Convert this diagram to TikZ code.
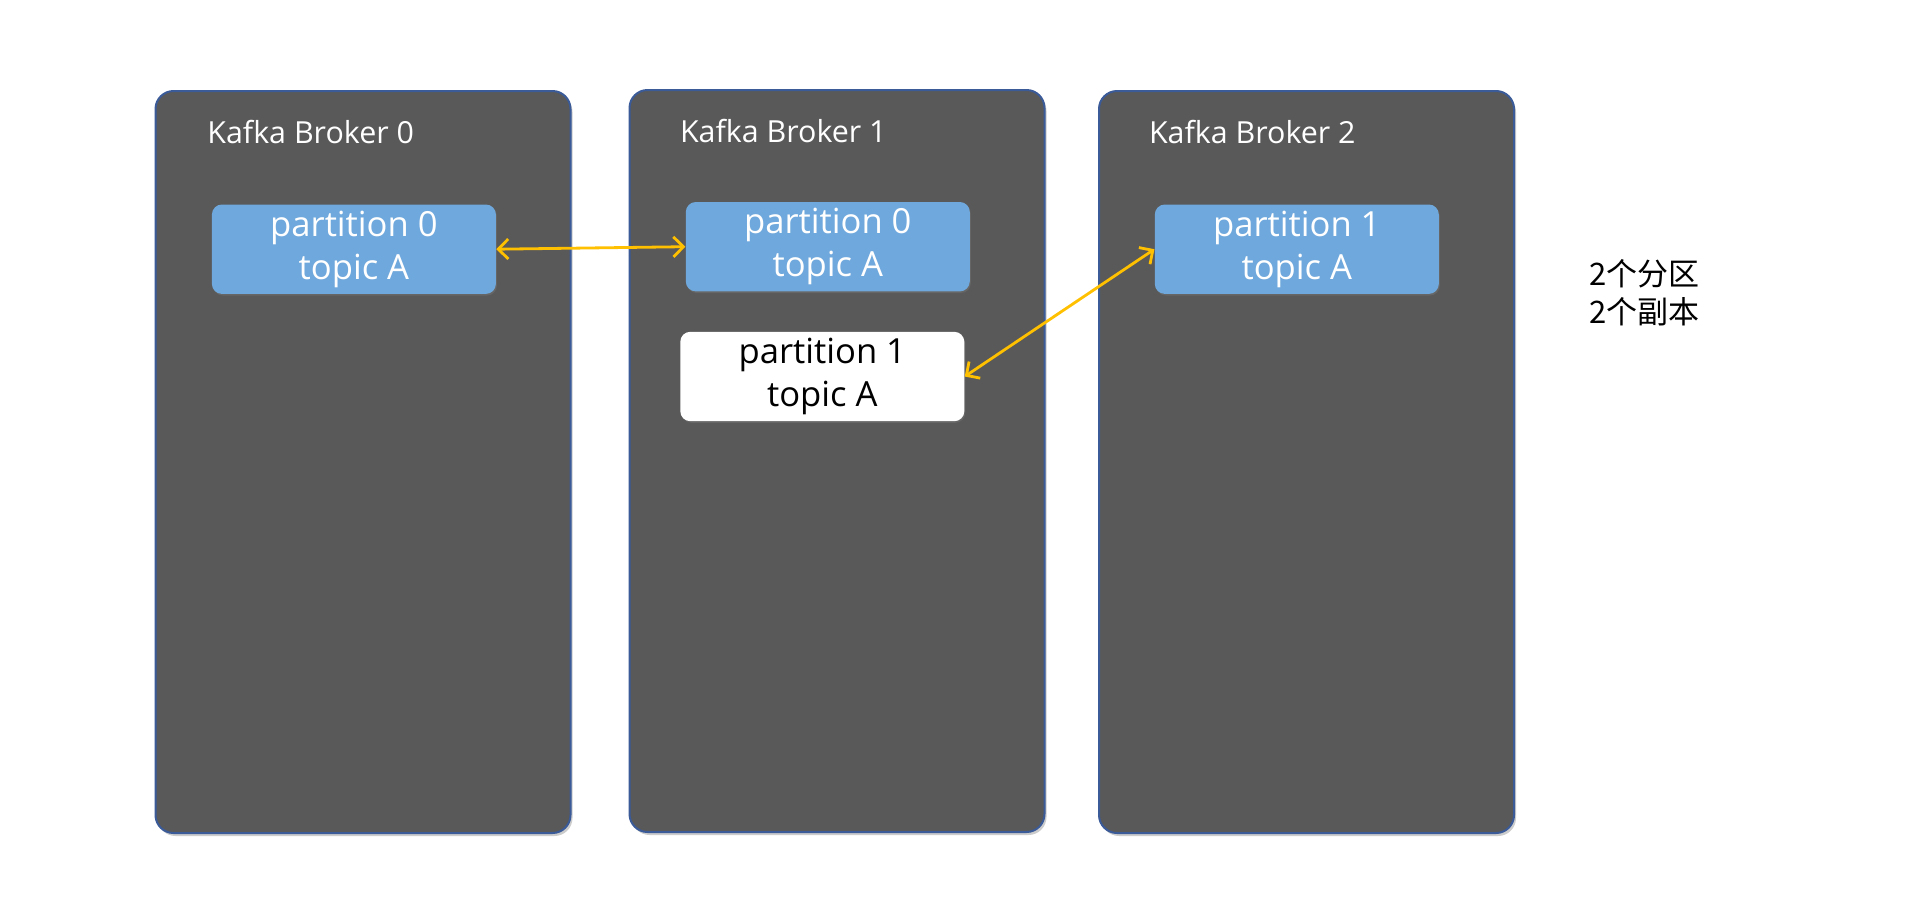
\documentclass[tikz,border=0pt]{standalone}
\usepackage{fontspec}
\setmainfont{Open Sans}
\newfontfamily\cjk{Noto Sans CJK SC}
\usetikzlibrary{arrows.meta,shadows}
\definecolor{brokergray}{HTML}{595959}
\definecolor{brokerline}{HTML}{3A5A98}
\definecolor{partblue}{HTML}{6FA8DC}
\definecolor{linkyellow}{HTML}{FFC000}
\tikzset{
  broker/.style={draw=brokerline, line width=1pt, fill=brokergray,
    rounded corners=9pt, minimum width=207.5pt, minimum height=371pt,
    drop shadow={shadow xshift=1pt, shadow yshift=-1.5pt, opacity=0.4}},
  title/.style={anchor=west, inner sep=0pt, text=white, font=\fontsize{15.2}{18}\selectfont},
  leader/.style={fill=partblue, rounded corners=5pt, minimum width=142pt,
    minimum height=44.7pt, inner sep=0pt, align=center, text=white,
    font=\fontsize{17.3}{21.5}\selectfont,
    drop shadow={shadow xshift=0.5pt, shadow yshift=-0.8pt, opacity=0.35}},
  follower/.style={leader, fill=white, text=black},
  link/.style={draw=linkyellow, line width=1.4pt,
    {Straight Barb[length=5pt,width=10pt]}-{Straight Barb[length=5pt,width=10pt]}}
}
\begin{document}
\begin{tikzpicture}[x=0.5pt, y=-0.5pt]
  \useasboundingbox[fill=white] (0,0) rectangle (1920,922);
  % brokers
  \node[broker] (b0) at (363,462) {};
  \node[broker] (b1) at (837,461) {};
  \node[broker] (b2) at (1306.5,462) {};
  \node[title] (t0) at (207,132) {Kafka Broker 0};
  \node[title] (t1) at (679.6,131) {Kafka Broker 1};
  \node[title] (t2) at (1148.6,132) {Kafka Broker 2};
  % partitions
  \node[leader] (b0p0) at (353.9,249.2) {partition 0\\topic A};
  \node[leader] (b1p0) at (827.8,246.7) {partition 0\\topic A};
  \node[follower] (b1p1) at (822.3,376.5) {partition 1\\topic A};
  \node[leader] (b2p1) at (1296.8,249.2) {partition 1\\topic A};
  % replication
  \draw[link] (b0p0.east) -- (b1p0.west);
  \draw[link] (b2p1.west) -- (b1p1.east);
  \node[anchor=west, inner sep=0pt, align=left, font=\cjk\fontsize{15.5}{19}\selectfont] (note) at (1589,293) {2个分区\\2个副本};
\end{tikzpicture}
\end{document}
